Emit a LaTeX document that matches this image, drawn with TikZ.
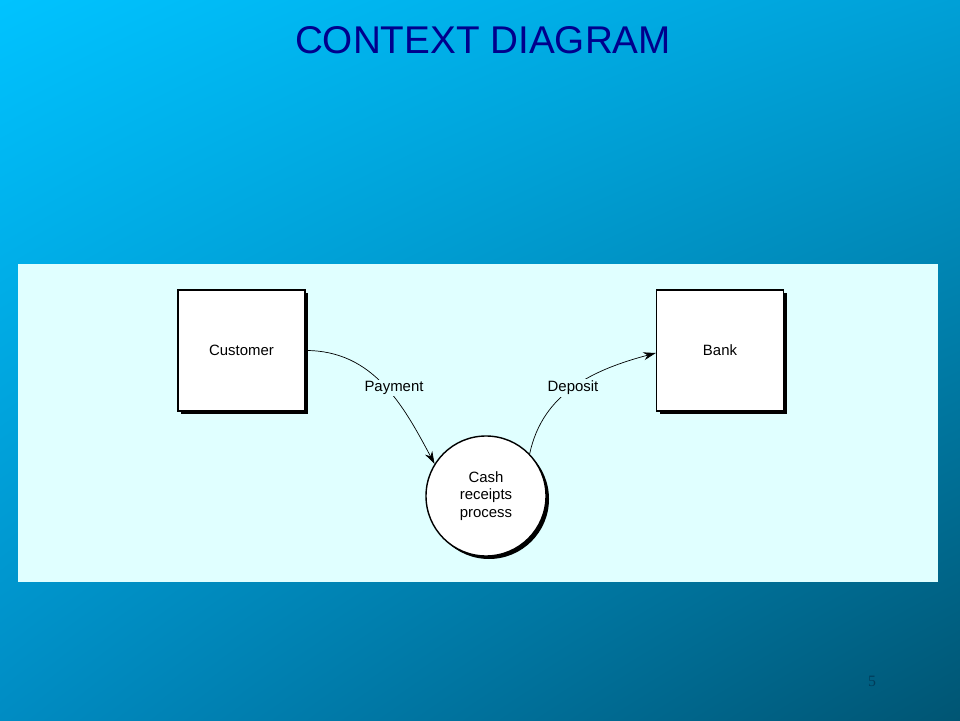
\documentclass[tikz,border=0pt]{standalone}
\usepackage{fontspec}
\setmainfont{Liberation Sans}
\usetikzlibrary{arrows.meta,positioning,shadows,shadings}
\definecolor{panel}{RGB}{224,255,255}
\definecolor{titleblue}{RGB}{0,0,140}
\definecolor{bgul}{RGB}{0,195,255}
\definecolor{bgur}{RGB}{0,160,215}
\definecolor{bgll}{RGB}{0,140,195}
\definecolor{bglr}{RGB}{0,85,115}
\definecolor{pagecol}{RGB}{0,60,90}
\tikzset{
    entity/.style={
        draw,
        thick,
        fill=white,
        minimum width=2.54cm,
        minimum height=2.42cm,
        font=\fontsize{8.5}{10}\selectfont,
        drop shadow={opacity=1, fill=black, shadow xshift=0.06cm, shadow yshift=-0.06cm}
    },
    process/.style={
        draw,
        thick,
        circle,
        fill=white,
        minimum size=2.4cm,
        align=center,
        font=\fontsize{8.5}{10}\selectfont,
        drop shadow={opacity=1, fill=black, shadow xshift=0.06cm, shadow yshift=-0.06cm}
    },
    flowlabel/.style={
        fill=panel,
        inner sep=1pt,
        font=\fontsize{8.5}{10}\selectfont
    },
    flow/.style={
        draw,
        -{Stealth[length=2.5mm, width=1.6mm]}
    }
}

\begin{document}
\begin{tikzpicture}
    % Background
    \shade[upper left=bgul, upper right=bgur, lower left=bgll, lower right=bglr]
        (0,0) rectangle (19.2,14.4);
    \useasboundingbox (0,0) rectangle (19.2,14.4);
    \node[text=titleblue, font=\fontsize{22}{26}\selectfont] (title) at (9.66,13.6) {CONTEXT DIAGRAM};
    \fill[panel] (0.36,2.76) rectangle (18.76,9.12);

    % Entities and process
    \node[entity] (customer) at (4.83,7.39) {Customer};
    \node[entity] (bank) at (14.4,7.39) {Bank};
    \node[process] (cash) at (9.72,4.48) {Cash\\receipts\\process};

    % Flows
    \draw[flow] (customer.east) to[out=0, in=118] (cash.148);
    \draw[flow] (cash.44) to[out=78, in=195] ([yshift=-0.05cm]bank.west);
    \node[flowlabel] (payment) at (7.88,6.64) {Payment};
    \node[flowlabel] (deposit) at (11.46,6.64) {Deposit};

    % Page number
    \node[text=pagecol, font=\fontspec{Liberation Serif}\small] (page) at (17.44,0.78) {5};
\end{tikzpicture}
\end{document}
